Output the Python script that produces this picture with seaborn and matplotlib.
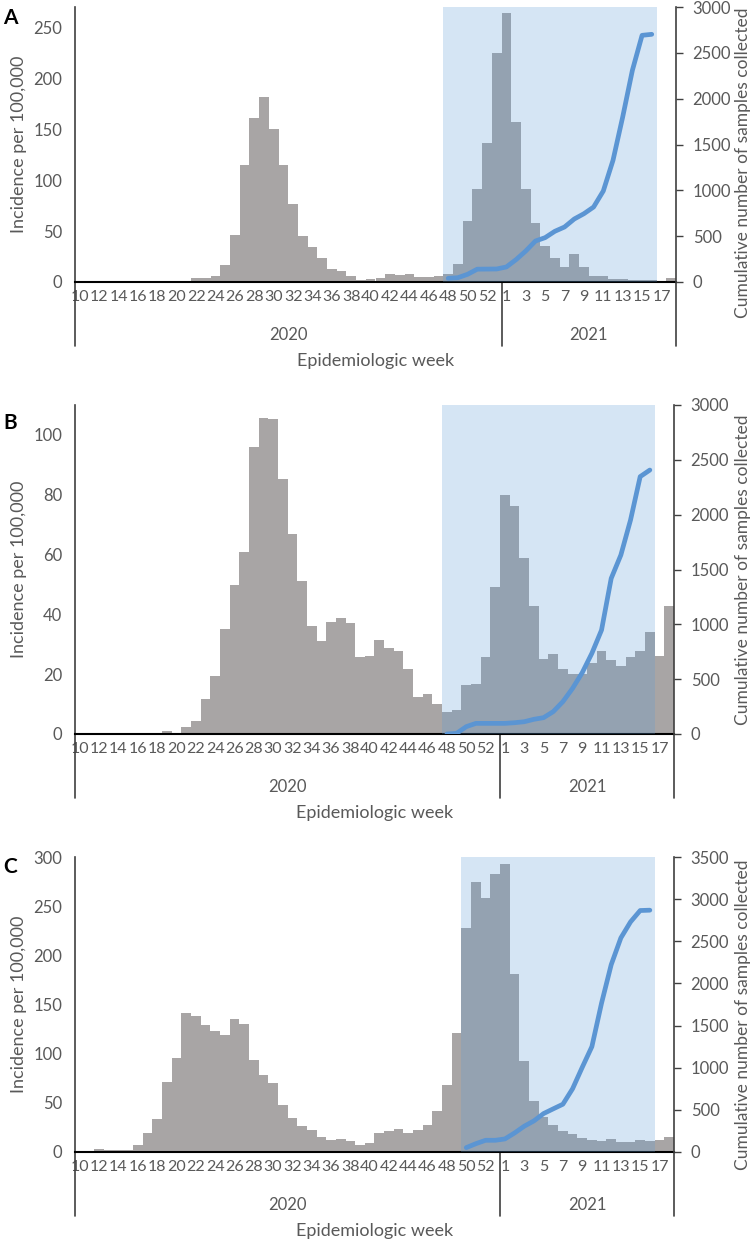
import numpy as np
import pandas as pd
import matplotlib
matplotlib.use("Agg")
import matplotlib.pyplot as plt
import matplotlib.transforms as mtrans
import seaborn as sns

sns.set_style("white")
plt.rcParams["font.family"] = ["Lato", "DejaVu Sans"]

# ── DATA ──────────────────────────────────────────────────────
weeks_2020 = list(range(10, 54))
weeks_2021 = list(range(1, 19))
week_keys = [f"2020-{w}" for w in weeks_2020] + [f"2021-{w}" for w in weeks_2021]
week_nums = weeks_2020 + weeks_2021

# incidence per 100,000, 2020-10 .. 2021-18
incidence_a = [0, 0.3, 0.8, 0.4, 0.2, 0.2, 0.2, 0.2, 0.2, 0.3, 0.4, 0.6,
               4.2, 3.6, 6, 17, 46, 115, 161, 182, 150, 115, 77, 45, 34,
               24, 13, 11, 6, 2.3, 2.6, 4.4, 7.5, 6.5, 8.2, 4.6, 5.2, 6.2,
               8.2, 18, 59.5, 91.6, 136, 225,
               264, 157, 91, 58, 35, 23.5, 14.7, 27.8, 14.7, 6.2, 5.6, 3.3,
               2.6, 2.3, 2, 2, 1, 3.6]
incidence_b = [0, 0, 0, 0, 0, 0, 0, 0, 0, 0.9, 0.3, 2.4, 4.2, 11.7, 19.4,
               35.1, 49.7, 60.7, 96, 105.8, 105.3, 85.1, 66.9, 51.2, 36.2,
               31.1, 37.4, 38.7, 37, 25.7, 26.2, 31.3, 28.6, 27.7, 21.7,
               12.4, 13.3, 10, 7.4, 8, 16.3, 16.6, 25.6, 49.3,
               79.9, 76.2, 58.8, 42.8, 25.2, 26.9, 21.8, 20.2, 20.2, 23.8,
               27.6, 24.7, 22.6, 25.8, 27.9, 34.1, 26.1, 42.9]
incidence_c = [0, 0, 3.1, 2.4, 1.7, 2.4, 6.8, 19.4, 33.7, 71, 95.9, 141.5,
               138.8, 129.3, 123, 118.7, 135, 129.9, 93.2, 78.2, 69.7, 47.3,
               34.4, 26.9, 22.1, 15.3, 12.2, 12.9, 11.6, 6.8, 9.4, 19.7,
               21.1, 23.8, 19.4, 22.1, 27.6, 41.8, 67.7, 121.4, 228, 274.5,
               258.5, 283,
               292.9, 181, 92.9, 51.4, 35.7, 27.2, 21.4, 18.7, 14.6, 11.9,
               11.2, 12.9, 10.2, 10.2, 12.6, 11.2, 11.9, 15.3]

# cumulative number of samples collected, from start week to 2021-16
cumulative_a = [40, 47, 84, 140, 141, 142, 164, 244, 338, 447, 484, 553,
                600, 687, 745, 818, 993, 1327, 1800, 2309, 2691, 2702]
cumulative_b = [0, 6, 67, 97, 97, 97, 97, 103, 112, 134, 149, 204, 295,
                416, 559, 736, 948, 1419, 1632, 1951, 2347, 2407]
cumulative_c = [52, 99, 139, 139, 155, 226, 306, 369, 456, 512, 567, 750,
                1004, 1250, 1766, 2222, 2540, 2730, 2865, 2869]

start_a, start_b, start_c = "2020-48", "2020-48", "2020-50"
end_key = "2021-16"

# ── STYLE ─────────────────────────────────────────────────────
BAR_GREY = "#A8A5A5"
SHADE = "#5B9BD5"
LINE = "#5B95D3"
TXT = "#595959"
AX_DARK = "#404040"
FW, FH = 752, 1242

fig = plt.figure(figsize=(FW / 100, FH / 100), dpi=100)

tick_pos = [i for i, k in enumerate(week_keys)
            if (k.startswith("2020") and week_nums[i] % 2 == 0)
            or (k.startswith("2021") and week_nums[i] % 2 == 1)]
tick_lab = [str(week_nums[i]) for i in tick_pos]
split = week_keys.index("2021-1") - 0.5


def draw_panel(letter, incidence, cumulative, start_key, left_max, left_ticks,
               right_max, top_px, bottom_px, right_px, rlabel_px, letter_y):
    h_px = bottom_px - top_px
    ax = fig.add_axes([75 / FW, 1 - bottom_px / FH,
                       (right_px - 75) / FW, h_px / FH])
    df = pd.DataFrame({"week": week_keys, "incidence": incidence})
    sns.barplot(data=df, x="week", y="incidence", order=week_keys,
                color=BAR_GREY, saturation=1, width=1.0, linewidth=0,
                errorbar=None, ax=ax, zorder=1)

    i0 = week_keys.index(start_key)
    i1 = week_keys.index(end_key)
    ax.axvspan(i0 - 0.5, i1 + 0.5, color=SHADE, alpha=0.25, lw=0, zorder=3)

    ax.set_xlim(-0.5, len(week_keys) - 0.5)
    ax.set_ylim(0, left_max)
    ax.set_yticks(left_ticks)
    ax.set_xticks(tick_pos)
    ax.set_xticklabels(tick_lab)
    ax.set_xlabel("")
    ax.set_ylabel("")
    ax.tick_params(axis="x", length=0, pad=6, labelsize=11.5, labelcolor=TXT)
    ax.tick_params(axis="y", length=0, pad=9, labelsize=12, labelcolor=TXT)
    for s in ["top", "right"]:
        ax.spines[s].set_visible(False)
    ax.spines["left"].set_color(AX_DARK)
    ax.spines["left"].set_linewidth(1.2)
    ax.spines["bottom"].set_color("black")
    ax.spines["bottom"].set_linewidth(1.5)

    # cumulative line on secondary axis
    ax2 = ax.twinx()
    pos = np.arange(i0, i0 + len(cumulative))
    sns.lineplot(x=pos, y=cumulative, ax=ax2, color=LINE, lw=3.4,
                 solid_capstyle="round")
    ax2.set_xlim(-0.5, len(week_keys) - 0.5)
    ax2.set_ylim(0, right_max)
    ax2.set_yticks(np.arange(0, right_max + 1, 500))
    ax2.tick_params(axis="y", direction="out", length=5, width=1,
                    color=AX_DARK, pad=7, labelsize=12, labelcolor=TXT)
    for s in ["top", "left", "bottom"]:
        ax2.spines[s].set_visible(False)
    ax2.spines["right"].set_color(AX_DARK)
    ax2.spines["right"].set_linewidth(1.2)

    # multi-level category axis: separators, years, title
    trans = mtrans.blended_transform_factory(ax.transData, ax.transAxes)
    drop = 64 / h_px
    for x in [-0.5, split, len(week_keys) - 0.5]:
        ax.plot([x, x], [0, -drop], transform=trans, color=AX_DARK,
                lw=1.2, clip_on=False)
    ax.text((-0.5 + split) / 2, -53 / h_px, "2020", transform=trans,
            ha="center", va="center", fontsize=12, color=TXT)
    ax.text((split + len(week_keys) - 0.5) / 2, -53 / h_px, "2021",
            transform=trans, ha="center", va="center", fontsize=12, color=TXT)
    ax.text(0.5, -79 / h_px, "Epidemiologic week", transform=ax.transAxes,
            ha="center", va="center", fontsize=13, color=TXT)

    fig.text(19.5 / FW, 1 - (top_px + bottom_px) / 2 / FH,
             "Incidence per 100,000", rotation=90, ha="center", va="center",
             fontsize=13, color=TXT)
    fig.text(743 / FW, 1 - rlabel_px / FH,
             "Cumulative number of samples collected", rotation=90,
             ha="center", va="center", fontsize=12.5, color=TXT)
    fig.text(10 / FW, 1 - letter_y / FH, letter, ha="center", va="center",
             fontsize=15, fontweight="bold", color="black")


draw_panel("A", incidence_a, cumulative_a, start_a, 270, np.arange(0, 251, 50),
           3000, 7, 282, 676, 163, 18)
draw_panel("B", incidence_b, cumulative_b, start_b, 110, np.arange(0, 101, 20),
           3000, 405, 734, 674, 570, 423)
draw_panel("C", incidence_c, cumulative_c, start_c, 300, np.arange(0, 301, 50),
           3500, 857, 1152, 674, 1015, 867)

plt.savefig("out.png", dpi=100)
